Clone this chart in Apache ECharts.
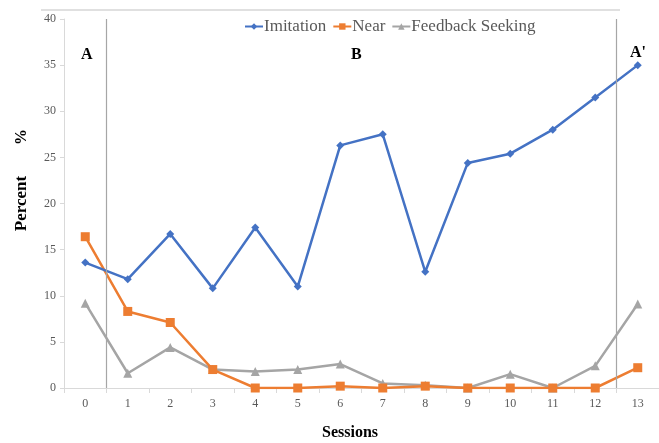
<!DOCTYPE html>
<html><head><meta charset="utf-8">
<script src="https://cdn.jsdelivr.net/npm/echarts@6/dist/echarts.min.js"></script>
<style>html,body{margin:0;padding:0;background:#fff}#c{width:659px;height:443px}</style>
</head><body><div id="c"></div>
<script>
const sessions = ['0','1','2','3','4','5','6','7','8','9','10','11','12','13'];
const imitation = [13.6, 11.8, 16.7, 10.8, 17.4, 11.0, 26.3, 27.5, 12.6, 24.4, 25.4, 28.0, 31.5, 35.0];
const near = [16.4, 8.3, 7.1, 2.0, 0, 0, 0.2, 0, 0.2, 0, 0, 0, 0, 2.2];
const feedback = [9.2, 1.6, 4.4, 2.0, 1.8, 2.0, 2.6, 0.5, 0.3, 0, 1.5, 0, 2.4, 9.1];
const phaseChanges = [0.5, 12.5];
const yTicks = {min: 0, max: 40, interval: 5};

const serif = '"Liberation Serif","DejaVu Serif",serif';
const chart = echarts.init(document.getElementById('c'));
chart.setOption({
  animation: false,
  grid: {left: 64, right: 0, top: 19, bottom: 55},
  legend: {
    left: 239, top: 13, itemWidth: 18, itemHeight: 8, itemGap: 6,
    textStyle: {fontFamily: serif, fontSize: 17, color: '#595959', padding: [0,0,0,-4]},
    data: ['Imitation','Near','Feedback Seeking']
  },
  xAxis: [{
    type: 'category', data: sessions,
    axisLine: {lineStyle: {color: '#d9d9d9', width: 1}},
    axisTick: {show: true, length: 5, lineStyle: {color: '#d9d9d9'}},
    axisLabel: {fontFamily: serif, fontSize: 12, color: '#595959', margin: 10}
  }, {
    type: 'value', min: -0.5, max: 13.5, show: false
  }],
  yAxis: {
    type: 'value', min: yTicks.min, max: yTicks.max, interval: yTicks.interval,
    name: 'Percent', nameLocation: 'middle', nameGap: 34, nameRotate: 90,
    nameTextStyle: {fontFamily: serif, fontSize: 17, fontWeight: 'bold', color: '#000'},
    splitLine: {show: false},
    axisLine: {show: true, onZero: false, lineStyle: {color: '#d9d9d9'}},
    axisTick: {show: true, length: 4, lineStyle: {color: '#d9d9d9'}},
    axisLabel: {fontFamily: serif, fontSize: 12, color: '#595959', margin: 8}
  },
  series: [
    {name: 'Imitation', type: 'line', data: imitation, symbol: 'diamond', symbolSize: 8,
     lineStyle: {width: 2.5, color: '#4472C4'}, itemStyle: {color: '#4472C4'}, z: 3},
    {name: 'Near', type: 'line', data: near, symbol: 'rect', symbolSize: 9,
     lineStyle: {width: 2.5, color: '#ED7D31'}, itemStyle: {color: '#ED7D31'}, z: 2},
    {name: 'Feedback Seeking', type: 'line', data: feedback, symbol: 'triangle', symbolSize: 9,
     lineStyle: {width: 2.5, color: '#A5A5A5'}, itemStyle: {color: '#A5A5A5'}, z: 1},
    {type: 'line', xAxisIndex: 1, data: [], silent: true,
     markLine: {symbol: 'none', silent: true, label: {show: false},
       lineStyle: {color: '#a6a6a6', type: 'solid', width: 1.2},
       data: phaseChanges.map(v => ({xAxis: v}))}}
  ],
  graphic: [
    {type: 'line', shape: {x1: 41, y1: 10, x2: 620, y2: 10}, style: {stroke: '#e0e0e0', lineWidth: 2}},
    {type: 'text', left: 81, top: 47, style: {text: 'A', font: 'bold 16px ' + serif, fill: '#000'}},
    {type: 'text', left: 351, top: 47, style: {text: 'B', font: 'bold 16px ' + serif, fill: '#000'}},
    {type: 'text', left: 630, top: 45, style: {text: "A'", font: 'bold 16px ' + serif, fill: '#000'}},
    {type: 'text', x: 22, y: 137, rotation: Math.PI/2, style: {text: '%', font: 'bold 16px ' + serif, fill: '#000', align: 'center', verticalAlign: 'middle'}},
    {type: 'text', x: 350, y: 433, style: {text: 'Sessions', font: 'bold 16px ' + serif, fill: '#000', align: 'center', verticalAlign: 'middle'}}
  ]
});
</script></body></html>
